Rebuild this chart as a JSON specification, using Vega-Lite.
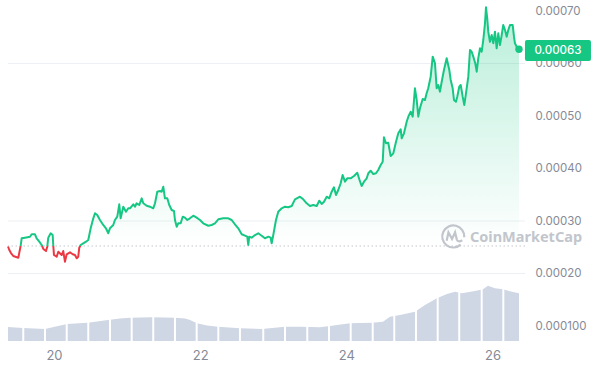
{
 "$schema": "https://vega.github.io/schema/vega-lite/v6.json",
 "width": 517,
 "height": 336,
 "autosize": "none",
 "padding": {"left": 8, "top": 5, "right": 75, "bottom": 27},
 "background": "white",
 "config": {"view": {"stroke": null}, "axis": {"labelFont": "Inter", "title": null}},
 "datasets": {
  "price": [
   {"d":19.371,"p":0.0002514},{"d":19.389,"p":0.0002448},{"d":19.412,"p":0.000239},{"d":19.443,"p":0.0002333},{"d":19.512,"p":0.0002301},
   {"d":19.544,"p":0.0002526},{"d":19.558,"p":0.000267},{"d":19.603,"p":0.0002682},{"d":19.672,"p":0.0002701},{"d":19.695,"p":0.0002747},
   {"d":19.74,"p":0.0002747},{"d":19.763,"p":0.000267},{"d":19.799,"p":0.0002606},{"d":19.832,"p":0.0002543},{"d":19.854,"p":0.0002467},
   {"d":19.891,"p":0.0002428},{"d":19.908,"p":0.000251},{"d":19.922,"p":0.0002682},{"d":19.955,"p":0.0002766},{"d":19.982,"p":0.0002733},
   {"d":19.99,"p":0.0002543},{"d":20.0,"p":0.0002352},{"d":20.037,"p":0.000232},{"d":20.059,"p":0.0002415},{"d":20.105,"p":0.0002352},
   {"d":20.127,"p":0.0002428},{"d":20.15,"p":0.0002225},{"d":20.174,"p":0.0002366},{"d":20.219,"p":0.0002404},{"d":20.256,"p":0.0002366},
   {"d":20.287,"p":0.0002352},{"d":20.311,"p":0.0002289},{"d":20.332,"p":0.000232},{"d":20.346,"p":0.0002491},{"d":20.365,"p":0.0002543},
   {"d":20.401,"p":0.0002575},{"d":20.438,"p":0.0002606},{"d":20.469,"p":0.0002638},{"d":20.502,"p":0.0002861},{"d":20.538,"p":0.0003051},
   {"d":20.561,"p":0.0003147},{"d":20.592,"p":0.0003114},{"d":20.629,"p":0.0003019},{"d":20.674,"p":0.0002924},{"d":20.711,"p":0.0002861},
   {"d":20.743,"p":0.0002766},{"d":20.766,"p":0.0002861},{"d":20.811,"p":0.0002924},{"d":20.834,"p":0.0003019},{"d":20.866,"p":0.0003082},
   {"d":20.893,"p":0.0003318},{"d":20.912,"p":0.0003051},{"d":20.948,"p":0.0003272},{"d":20.985,"p":0.0003177},{"d":21.016,"p":0.0003242},
   {"d":21.04,"p":0.0003242},{"d":21.085,"p":0.0003318},{"d":21.108,"p":0.0003272},{"d":21.131,"p":0.0003337},{"d":21.167,"p":0.0003305},
   {"d":21.2,"p":0.0003432},{"d":21.222,"p":0.0003337},{"d":21.268,"p":0.0003291},{"d":21.313,"p":0.0003272},{"d":21.358,"p":0.0003242},
   {"d":21.382,"p":0.0003337},{"d":21.413,"p":0.0003558},{"d":21.45,"p":0.0003571},{"d":21.473,"p":0.0003558},{"d":21.495,"p":0.0003653},
   {"d":21.518,"p":0.0003432},{"d":21.55,"p":0.0003432},{"d":21.577,"p":0.0003305},{"d":21.61,"p":0.0003209},{"d":21.642,"p":0.000319},
   {"d":21.655,"p":0.0003019},{"d":21.679,"p":0.0002891},{"d":21.7,"p":0.0002956},{"d":21.733,"p":0.0002956},{"d":21.761,"p":0.0003082},
   {"d":21.792,"p":0.0003063},{"d":21.824,"p":0.0003019},{"d":21.86,"p":0.0003051},{"d":21.906,"p":0.0003101},{"d":21.952,"p":0.0003063},
   {"d":21.997,"p":0.0003019},{"d":22.042,"p":0.0002956},{"d":22.111,"p":0.000291},{"d":22.157,"p":0.0002924},{"d":22.202,"p":0.0002956},
   {"d":22.248,"p":0.0003032},{"d":22.316,"p":0.0003051},{"d":22.384,"p":0.0003051},{"d":22.431,"p":0.0003019},{"d":22.476,"p":0.0002937},
   {"d":22.521,"p":0.0002861},{"d":22.568,"p":0.0002747},{"d":22.613,"p":0.000272},{"d":22.644,"p":0.0002701},{"d":22.658,"p":0.0002543},
   {"d":22.672,"p":0.0002701},{"d":22.704,"p":0.0002682},{"d":22.75,"p":0.0002733},{"d":22.795,"p":0.0002766},{"d":22.841,"p":0.000272},
   {"d":22.886,"p":0.000267},{"d":22.932,"p":0.0002701},{"d":22.964,"p":0.0002682},{"d":22.978,"p":0.0002575},{"d":23.0,"p":0.0002733},
   {"d":23.037,"p":0.0003019},{"d":23.068,"p":0.0003177},{"d":23.115,"p":0.0003242},{"d":23.16,"p":0.0003272},{"d":23.205,"p":0.0003261},
   {"d":23.252,"p":0.0003286},{"d":23.297,"p":0.0003413},{"d":23.365,"p":0.0003463},{"d":23.41,"p":0.0003413},{"d":23.457,"p":0.0003337},
   {"d":23.502,"p":0.0003286},{"d":23.547,"p":0.0003305},{"d":23.594,"p":0.0003286},{"d":23.629,"p":0.0003387},{"d":23.662,"p":0.0003324},
   {"d":23.694,"p":0.0003368},{"d":23.731,"p":0.0003463},{"d":23.766,"p":0.0003432},{"d":23.799,"p":0.0003558},{"d":23.83,"p":0.0003642},
   {"d":23.858,"p":0.0003495},{"d":23.889,"p":0.000359},{"d":23.922,"p":0.0003718},{"d":23.949,"p":0.0003876},{"d":23.981,"p":0.0003749},
   {"d":24.012,"p":0.0003813},{"d":24.059,"p":0.0003813},{"d":24.104,"p":0.0003857},{"d":24.149,"p":0.000392},{"d":24.177,"p":0.0003794},
   {"d":24.209,"p":0.0003667},{"d":24.241,"p":0.0003749},{"d":24.278,"p":0.0003813},{"d":24.3,"p":0.0003909},{"d":24.332,"p":0.0003958},
   {"d":24.368,"p":0.0003895},{"d":24.405,"p":0.0003909},{"d":24.436,"p":0.0003971},{"d":24.469,"p":0.0004067},{"d":24.497,"p":0.0004129},
   {"d":24.514,"p":0.0004594},{"d":24.542,"p":0.000448},{"d":24.573,"p":0.0004491},{"d":24.606,"p":0.0004238},{"d":24.642,"p":0.0004289},
   {"d":24.679,"p":0.000451},{"d":24.71,"p":0.000467},{"d":24.743,"p":0.0004747},{"d":24.757,"p":0.0004575},{"d":24.788,"p":0.000467},
   {"d":24.825,"p":0.0004891},{"d":24.847,"p":0.0004987},{"d":24.88,"p":0.0005082},{"d":24.907,"p":0.0004987},{"d":24.938,"p":0.0005528},
   {"d":24.962,"p":0.0005305},{"d":24.984,"p":0.0004987},{"d":25.007,"p":0.0005152},{"d":25.044,"p":0.0005324},{"d":25.075,"p":0.0005305},
   {"d":25.098,"p":0.0005432},{"d":25.12,"p":0.0005528},{"d":25.153,"p":0.0005749},{"d":25.181,"p":0.000613},{"d":25.212,"p":0.0006004},
   {"d":25.235,"p":0.0005528},{"d":25.257,"p":0.000559},{"d":25.28,"p":0.0005463},{"d":25.304,"p":0.0005653},{"d":25.335,"p":0.0005876},
   {"d":25.372,"p":0.0006099},{"d":25.408,"p":0.0005876},{"d":25.427,"p":0.0005686},{"d":25.454,"p":0.0005528},{"d":25.472,"p":0.0005305},
   {"d":25.499,"p":0.0005272},{"d":25.517,"p":0.0005368},{"d":25.544,"p":0.0005558},{"d":25.564,"p":0.000559},{"d":25.591,"p":0.0005368},
   {"d":25.613,"p":0.0005209},{"d":25.636,"p":0.0005432},{"d":25.668,"p":0.0005749},{"d":25.691,"p":0.0006257},{"d":25.714,"p":0.0006225},
   {"d":25.736,"p":0.000613},{"d":25.763,"p":0.0006004},{"d":25.783,"p":0.0005844},{"d":25.804,"p":0.0006099},{"d":25.828,"p":0.000629},
   {"d":25.851,"p":0.0006225},{"d":25.873,"p":0.0006448},{"d":25.896,"p":0.0006766},{"d":25.91,"p":0.000707},{"d":25.927,"p":0.0006861},
   {"d":25.941,"p":0.0006606},{"d":25.964,"p":0.0006415},{"d":25.988,"p":0.0006543},{"d":26.01,"p":0.0006385},{"d":26.033,"p":0.0006606},
   {"d":26.056,"p":0.000629},{"d":26.078,"p":0.0006575},{"d":26.101,"p":0.0006352},{"d":26.125,"p":0.0006543},{"d":26.146,"p":0.0006733},
   {"d":26.17,"p":0.0006638},{"d":26.193,"p":0.000651},{"d":26.215,"p":0.0006638},{"d":26.238,"p":0.0006733},{"d":26.275,"p":0.0006733},
   {"d":26.293,"p":0.000651},{"d":26.306,"p":0.0006385},{"d":26.33,"p":0.000632},{"d":26.361,"p":0.000627}
  ],
  "vol": [
   {"d":19.371,"v":1.4},{"d":19.576,"v":1.3},{"d":19.877,"v":1.2},{"d":20.178,"v":1.7},{"d":20.465,"v":1.83},
   {"d":20.739,"v":2.1},{"d":20.903,"v":2.25},{"d":21.04,"v":2.33},{"d":21.341,"v":2.37},{"d":21.655,"v":2.33},
   {"d":21.792,"v":2.25},{"d":21.861,"v":2.1},{"d":21.956,"v":1.77},{"d":22.093,"v":1.55},{"d":22.244,"v":1.43},
   {"d":22.544,"v":1.27},{"d":22.845,"v":1.2},{"d":23.16,"v":1.43},{"d":23.365,"v":1.43},{"d":23.639,"v":1.37},
   {"d":23.776,"v":1.5},{"d":24.049,"v":1.77},{"d":24.35,"v":1.83},{"d":24.501,"v":1.93},{"d":24.596,"v":2.43},
   {"d":24.733,"v":2.6},{"d":24.938,"v":2.93},{"d":25.075,"v":3.6},{"d":25.239,"v":4.27},{"d":25.376,"v":4.7},
   {"d":25.486,"v":4.93},{"d":25.581,"v":4.77},{"d":25.759,"v":5.0},{"d":25.869,"v":5.17},{"d":25.937,"v":5.53},
   {"d":26.033,"v":5.27},{"d":26.142,"v":5.17},{"d":26.265,"v":4.93},{"d":26.361,"v":4.77}
  ],
  "sep": [
   {"d":19.58,"v":1.4,"v0":0},{"d":19.877,"v":1.3,"v0":0},{"d":20.174,"v":1.8,"v0":0},{"d":20.469,"v":1.95,"v0":0},{"d":20.766,"v":2.25,"v0":0},
   {"d":21.063,"v":2.45,"v0":0},{"d":21.358,"v":2.47,"v0":0},{"d":21.655,"v":2.43,"v0":0},{"d":21.952,"v":1.9,"v0":0},{"d":22.248,"v":1.55,"v0":0},
   {"d":22.544,"v":1.37,"v0":0},{"d":22.863,"v":1.35,"v0":0},{"d":23.16,"v":1.53,"v0":0},{"d":23.465,"v":1.52,"v0":0},{"d":23.762,"v":1.6,"v0":0},
   {"d":24.059,"v":1.87,"v0":0},{"d":24.36,"v":1.93,"v0":0},{"d":24.655,"v":2.65,"v0":0},{"d":24.952,"v":3.1,"v0":0},{"d":25.249,"v":4.4,"v0":0},
   {"d":25.544,"v":4.95,"v0":0},{"d":25.851,"v":5.25,"v0":0},{"d":26.147,"v":5.27,"v0":0}
  ],
  "grid": [{"g":0.0002},{"g":0.0003},{"g":0.0006}],
  "base": [{"b":0.0002524}],
  "last": [{"d":26.361,"p":0.000627,"label":"0.00063"}],
  "brand": [{"d":25.462,"p":0.0002714,"t":"CoinMarketCap","tx":25.691,"tp":0.0002676}]
 },
 "resolve": {"scale": {"y": "independent"}, "axis": {"y": "independent"}},
 "layer": [
  {
   "layer": [
    {
     "data": {"name": "vol"},
     "mark": {"type": "area", "color": "#cfd6e4", "opacity": 1},
     "encoding": {
      "x": {"field": "d", "type": "quantitative", "scale": {"domain": [19.371, 26.4435], "nice": false, "zero": false},
            "axis": {"values": [20, 22, 24, 26], "format": "d", "grid": false, "domain": false, "ticks": false, "labelPadding": 8, "labelFontSize": 13, "labelColor": "#858a96"}},
      "y": {"field": "v", "type": "quantitative", "scale": {"domain": [0, 33.6], "nice": false, "zero": true}, "axis": null}
     }
    },
    {
     "data": {"name": "sep"},
     "mark": {"type": "rule", "color": "#ffffff", "strokeWidth": 2, "opacity": 1},
     "encoding": {
      "x": {"field": "d", "type": "quantitative"},
      "y": {"field": "v", "type": "quantitative"},
      "y2": {"field": "v0"}
     }
    }
   ]
  },
  {
   "layer": [
    {
     "data": {"name": "grid"},
     "mark": {"type": "rule", "color": "#eceff3", "strokeWidth": 1},
     "encoding": {"y": {"field": "g", "type": "quantitative", "scale": {"domain": [0.00007143, 0.00071143], "nice": false, "zero": false},
            "axis": {"orient": "right", "values": [0.0001, 0.0002, 0.0003, 0.0004, 0.0005, 0.0006, 0.0007],
                     "labelExpr": "datum.value < 0.00015 ? '0.000100' : format(datum.value, '.5f')",
                     "domain": false, "ticks": false, "grid": false, "labelPadding": 10, "labelFontSize": 11.5, "labelColor": "#858a96"}}}
    },
    {
     "data": {"name": "price"},
     "mark": {"type": "area", "fill": {"gradient": "linear", "x1": 0, "y1": 0, "x2": 0, "y2": 1, "stops": [
       {"offset": 0, "color": "rgba(22,199,132,0.30)"},
       {"offset": 0.9383, "color": "rgba(22,199,132,0.0)"},
       {"offset": 1, "color": "rgba(234,57,67,0.0)"}]}},
     "encoding": {
      "x": {"field": "d", "type": "quantitative"},
      "y": {"field": "p", "type": "quantitative"},
      "y2": {"datum": 0.0002524}
     }
    },
    {
     "data": {"name": "base"},
     "mark": {"type": "rule", "color": "#c3c8cf", "strokeDash": [1.5, 2.5], "strokeWidth": 1},
     "encoding": {"y": {"field": "b", "type": "quantitative"}}
    },
    {
     "data": {"name": "brand"},
     "mark": {"type": "point", "shape": "M0.62,0.72A0.92,0.92 0 1 1 0.92,0.1M-0.55,0.4L-0.4,-0.3L-0.1,0.25L0.15,-0.3L0.3,0.3Q0.4,0.55 0.75,0.35", "size": 576, "filled": false, "color": "#c2c6cc", "strokeWidth": 2.2, "opacity": 1},
     "encoding": {"x": {"field": "d", "type": "quantitative"}, "y": {"field": "p", "type": "quantitative"}}
    },
    {
     "data": {"name": "brand"},
     "mark": {"type": "text", "align": "left", "baseline": "middle", "font": "Noto Sans", "fontSize": 14.5, "fontWeight": "bold", "color": "#c2c6cc"},
     "encoding": {"x": {"field": "tx", "type": "quantitative"}, "y": {"field": "tp", "type": "quantitative"}, "text": {"field": "t"}}
    },
    {
     "data": {"name": "price"},
     "mark": {"type": "line", "strokeWidth": 2, "strokeJoin": "round",
              "stroke": {"gradient": "linear", "x1": 0, "y1": 0, "x2": 0, "y2": 1, "stops": [
                {"offset": 0, "color": "#16c784"},
                {"offset": 0.9383, "color": "#16c784"},
                {"offset": 0.9383, "color": "#ea3943"},
                {"offset": 1, "color": "#ea3943"}]}},
     "encoding": {"x": {"field": "d", "type": "quantitative"}, "y": {"field": "p", "type": "quantitative"}}
    },
    {
     "data": {"name": "last"},
     "mark": {"type": "point", "filled": true, "size": 55, "color": "#16c784", "opacity": 1},
     "encoding": {"x": {"field": "d", "type": "quantitative"}, "y": {"field": "p", "type": "quantitative"}}
    },
    {
     "data": {"name": "last"},
     "mark": {"type": "point", "shape": "M-0.94,-0.318H0.94Q1,-0.318 1,-0.258V0.258Q1,0.318 0.94,0.318H-0.94Q-1,0.318 -1,0.258V-0.258Q-1,-0.318 -0.94,-0.318Z", "size": 4356, "filled": true, "color": "#16c784", "opacity": 1, "xOffset": 39, "yOffset": 1.2},
     "encoding": {"x": {"field": "d", "type": "quantitative"}, "y": {"field": "p", "type": "quantitative"}}
    },
    {
     "data": {"name": "last"},
     "mark": {"type": "text", "color": "white", "font": "Inter", "fontSize": 11.5, "fontWeight": 500, "align": "center", "baseline": "middle", "dx": 39, "dy": 1.5},
     "encoding": {"x": {"field": "d", "type": "quantitative"}, "y": {"field": "p", "type": "quantitative"}, "text": {"field": "label"}}
    }
   ]
  }
 ]
}
